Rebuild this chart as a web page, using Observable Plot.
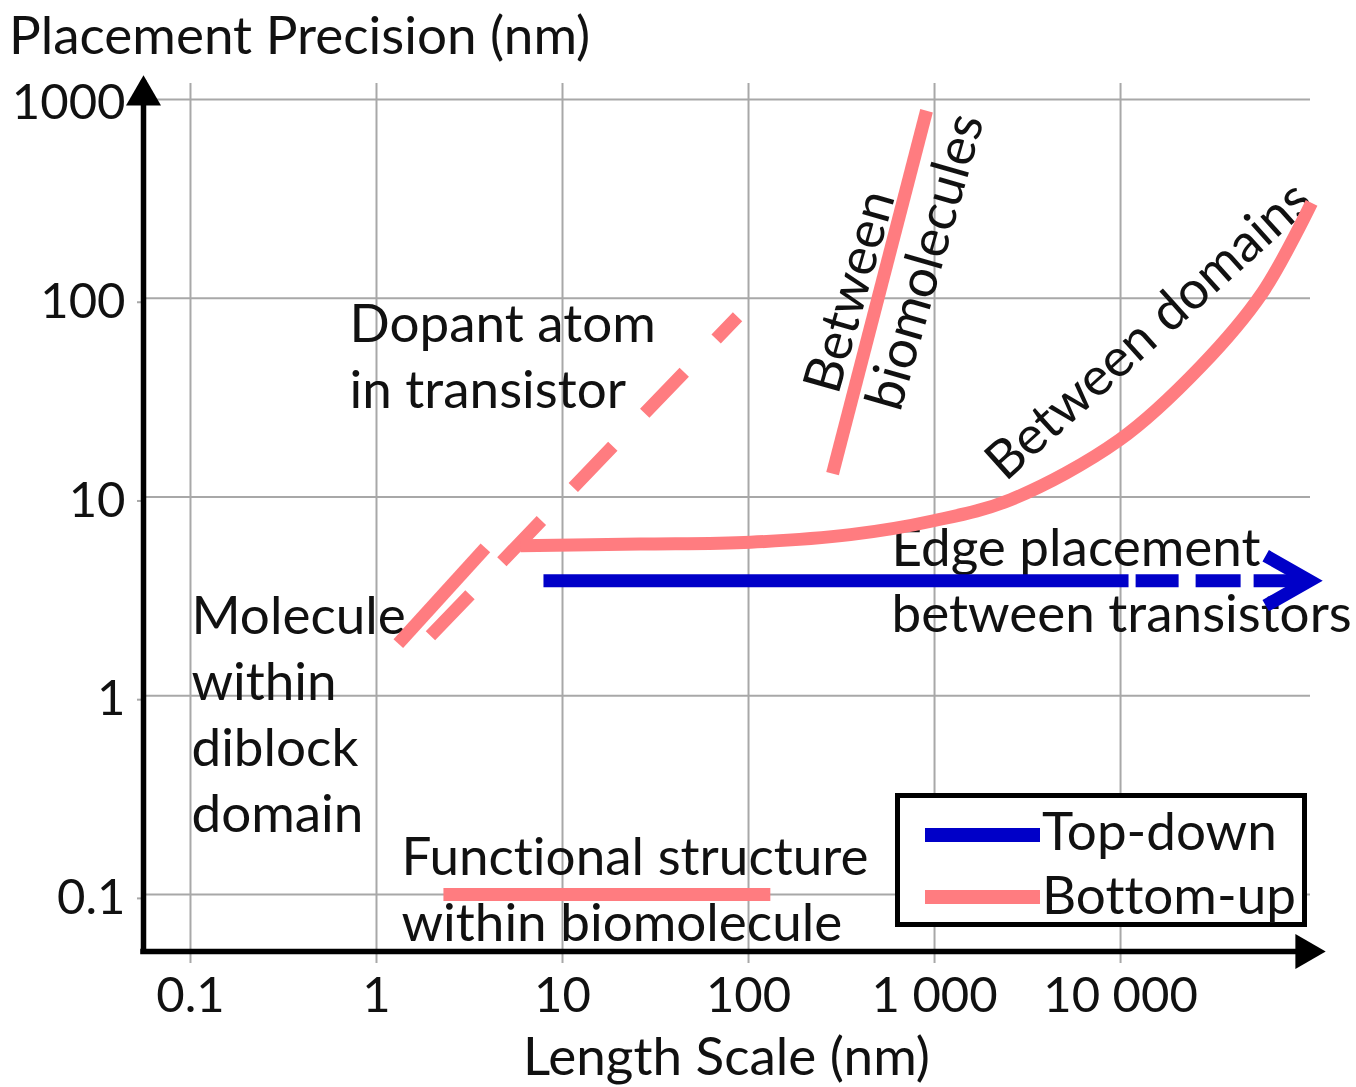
<!DOCTYPE html>
<html>
<head>
<meta charset="utf-8">
<script src="https://cdn.jsdelivr.net/npm/d3@7"></script>
<script src="https://cdn.jsdelivr.net/npm/@observablehq/plot@0.6"></script>
<style>
  body { margin: 0; background: #fff; }
  #wrap { position: relative; width: 1356px; height: 1087px; overflow: hidden; font-family: Lato, sans-serif; color: #111; background: #fff; font-variant-ligatures: none; font-feature-settings: "liga" 0, "clig" 0, "dlig" 0, "calt" 0; }
  #wrap svg text, #wrap svg tspan { font-variant-ligatures: none; font-feature-settings: "liga" 0, "clig" 0, "dlig" 0, "calt" 0; }
  #title { height: 70px; line-height: 68px; font-size: 53px; padding-left: 9px; white-space: nowrap; }
  #xlabel { position: absolute; left: 143px; width: 1167px; top: 1025px; height: 60px; line-height: 60px; font-size: 53px; text-align: center; white-space: nowrap; }
  #legend { position: absolute; left: 895px; top: 793px; width: 412px; height: 134px; box-sizing: border-box; border: 5px solid #000; background: #fff; }
  #legend .sw { position: absolute; left: 25px; width: 115px; height: 14px; }
  #legend .lt { position: absolute; left: 142px; font-size: 53px; line-height: 62px; white-space: nowrap; }
</style>
</head>
<body>
<div id="wrap">
  <div id="title">Placement Precision (nm)</div>
  <div id="chart"></div>
  <div id="xlabel">Length Scale (nm)</div>
  <div id="legend"></div>
</div>
<script>
// ---------- ticks ----------
const xTicks = [0.1, 1, 10, 100, 1000, 10000];
const xTickLabels = ["0.1", "1", "10", "100", "1 000", "10 000"];
const yTicks = [0.1, 1, 10, 100, 1000];
const yTickLabels = ["0.1", "1", "10", "100", "1000"];
// where the two axis lines sit
const xExtent = [0.0559, 105000];
const yExtent = [0.0516, 1204];

// ---------- bottom-up series (nm) ----------
const moleculeX = [1.31, 3.85];
const moleculeY = [1.83, 5.55];
const dopantX = [1.95, 87.3];
const dopantY = [2.0, 80.7];
const domainsX = [5.94, 26.2, 102.5, 353, 988, 2565, 9890, 26900, 57900, 106400];
const domainsY = [5.68, 5.79, 5.92, 6.46, 7.59, 9.69, 19.4, 45.2, 106.6, 302];
const biomolX = [283, 906];
const biomolY = [13.1, 878];
const functionalX = [2.29, 131];
const functionalY = [0.1, 0.1];

// ---------- top-down series (nm) ----------
const edgeSolidX = [7.9, 11040];
const edgeSolidY = [3.79, 3.79];
const edgeDashX = [12050, 103800];
const edgeDashY = [3.79, 3.79];
const edgeHeadX = [60300, 103800, 60300];
const edgeHeadY = [5.06, 3.79, 2.84];

// ---------- annotations ----------
const labelText = ["Dopant atom\nin transistor", "Molecule\nwithin\ndiblock\ndomain", "Functional structure\nwithin biomolecule", "Edge placement\nbetween transistors"];
const labelX = [0.716, 0.1012, 1.362, 587];
const labelY = [52.6, 0.831, 0.1094, 3.925];
const rotText = ["Between", "biomolecules", "Between domains"];
const rotX = [352, 896, 14160];
const rotY = [107.9, 152.7, 68.6];
const rotAngle = [-74, -74, -42];

// ---------- legend ----------
const legendNames = ["Top-down", "Bottom-up"];

const PINK = "#FF7C80";
const BLUE = "#0000C8";
const GRID = "#a8a8a8";
const FS = 53;
const TFS = 49;

const pts = (xs, ys) => xs.map((x, i) => ({x, y: ys[i]}));
const labels = labelText.map((t, i) => ({t, x: labelX[i], y: labelY[i]}));
const rots = rotText.map((t, i) => ({t, x: rotX[i], y: rotY[i], a: rotAngle[i]}));
const lineOpts = {x: "x", y: "y", strokeWidth: 13, strokeLinecap: "butt"};

const plot = Plot.plot({
  width: 1356,
  height: 960,
  marginLeft: 143,
  marginRight: 46,
  marginTop: 13,
  marginBottom: 79,
  x: {type: "log", domain: xExtent},
  y: {type: "log", domain: yExtent},
  style: `font-family: Lato, sans-serif; font-size: ${FS}px; color: #111; background: white; font-variant-ligatures: none;`,
  marks: [
    Plot.gridX(xTicks, {stroke: GRID, strokeOpacity: 1, strokeWidth: 2}),
    Plot.gridY(yTicks, {stroke: GRID, strokeOpacity: 1, strokeWidth: 2}),
    Plot.axisX(xTicks, {tickFormat: d => xTickLabels[xTicks.indexOf(d)], tickSize: 12, tickPadding: 14, stroke: GRID, strokeWidth: 2, label: null, fontSize: TFS}),
    Plot.axisY(yTicks, {tickFormat: d => yTickLabels[yTicks.indexOf(d)], tickSize: 6, tickPadding: 12, dy: 4, stroke: GRID, strokeWidth: 2, label: null, fontSize: TFS}),
    Plot.text(labels, {x: "x", y: "y", text: "t", textAnchor: "start", lineAnchor: "middle", lineHeight: 1.245, fontSize: FS, fill: "#111"}),
    Plot.text(rots, {x: "x", y: "y", text: "t", rotate: "a", textAnchor: "middle", lineAnchor: "middle", fontSize: FS, fill: "#111"}),
    // bottom-up
    Plot.line(pts(moleculeX, moleculeY), {...lineOpts, stroke: PINK}),
    Plot.line(pts(dopantX, dopantY), {...lineOpts, stroke: PINK, strokeDasharray: "57,46"}),
    Plot.line(pts(domainsX, domainsY), {...lineOpts, stroke: PINK, curve: "catmull-rom"}),
    Plot.line(pts(biomolX, biomolY), {...lineOpts, stroke: PINK}),
    Plot.line(pts(functionalX, functionalY), {...lineOpts, stroke: PINK}),
    // top-down
    Plot.line(pts(edgeSolidX, edgeSolidY), {...lineOpts, stroke: BLUE}),
    Plot.line(pts(edgeDashX, edgeDashY), {...lineOpts, stroke: BLUE, strokeDasharray: "43,17,45,13,400"}),
    Plot.line(pts(edgeHeadX, edgeHeadY), {...lineOpts, stroke: BLUE, strokeLinejoin: "miter", strokeMiterlimit: 10}),
    // axes with arrows
    Plot.ruleX([xExtent[0]], {stroke: "black", strokeWidth: 5.5, strokeLinecap: "square"}),
    Plot.ruleY([yExtent[0]], {stroke: "black", strokeWidth: 5.5, strokeLinecap: "square"}),
    Plot.dot([0], {frameAnchor: "top-left", symbol: "triangle", r: 13, fill: "black", stroke: null, dy: 12}),
    Plot.dot([0], {frameAnchor: "bottom-right", symbol: "triangle", r: 13, rotate: 90, fill: "black", stroke: null, dx: -5})
  ]
});
document.getElementById("chart").appendChild(plot);

// legend
const legend = d3.select("#legend");
const legendColors = [BLUE, PINK];
const swTop = [30, 92];
const txTop = [1, 65];
legendNames.forEach((n, i) => {
  legend.append("div").attr("class", "sw").style("top", swTop[i] + "px").style("background", legendColors[i]);
  legend.append("div").attr("class", "lt").style("top", txTop[i] + "px").text(n);
});
</script>
</body>
</html>
